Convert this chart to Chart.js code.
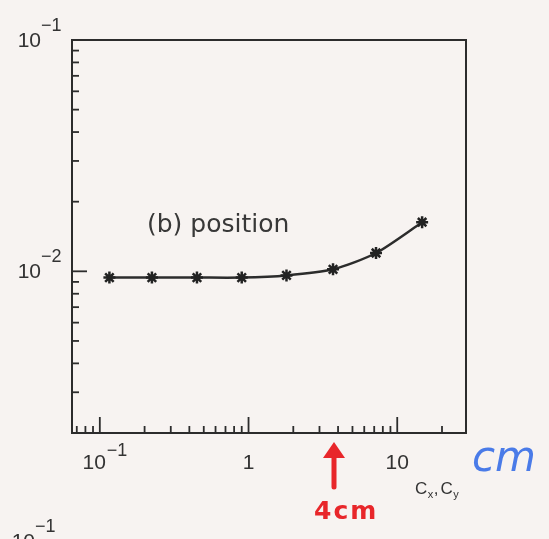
<!DOCTYPE html>
<html>
<head>
<meta charset="utf-8">
<script src="https://cdn.jsdelivr.net/npm/chart.js@4"></script>
<style>
  html, body { margin: 0; padding: 0; background: #f7f3f1; }
  #wrap { width: 549px; height: 539px; }
</style>
</head>
<body>
<div id="wrap"><canvas id="c" width="549" height="539"></canvas></div>
<script>
// ---- data ----
const xValues = [0.116, 0.224, 0.45, 0.9, 1.8, 3.7, 7.2, 14.7];      // Cx, Cy (cm)
const yValues = [0.0094, 0.0094, 0.0094, 0.0094, 0.0096, 0.0102, 0.0120, 0.0163];
const xTickValues = [0.1, 1, 10];
const xTickBase = ['10', '1', '10'];
const xTickExp = ['\u22121', '', ''];
const yTickValues = [0.1, 0.01];
const yTickBase = ['10', '10'];
const yTickExp = ['\u22121', '\u22122'];
const panelLabel = '(b) position';

const INK = '#2c2c2c';

const decorPlugin = {
  id: 'decor',
  beforeDraw(chart) {
    const ctx = chart.ctx;
    ctx.save();
    ctx.fillStyle = '#f7f3f1';
    ctx.fillRect(0, 0, chart.width, chart.height);
    ctx.restore();
  },
  afterDatasetsDraw(chart) {
    const ctx = chart.ctx;
    const a = chart.chartArea;
    const xs = chart.scales.x, ys = chart.scales.y;
    ctx.save();
    // frame
    ctx.strokeStyle = INK;
    ctx.lineWidth = 2;
    ctx.strokeRect(a.left, a.top, a.right - a.left, a.bottom - a.top);
    ctx.lineWidth = 1.8;
    // x ticks (inward, upward)
    for (let e = -2; e <= 1; e++) {
      for (let m = 1; m <= 9; m++) {
        const v = m * Math.pow(10, e);
        if (v <= xs.min || v >= xs.max) continue;
        const px = xs.getPixelForValue(v);
        const len = m === 1 ? 16 : 7;
        ctx.beginPath();
        ctx.moveTo(px, a.bottom);
        ctx.lineTo(px, a.bottom - len);
        ctx.stroke();
      }
    }
    // y ticks (inward, rightward)
    for (let e = -3; e <= -1; e++) {
      for (let m = 1; m <= 9; m++) {
        const v = m * Math.pow(10, e);
        if (v <= ys.min * 1.001 || v >= ys.max * 0.999) continue;
        const py = ys.getPixelForValue(v);
        const len = m === 1 ? 15 : 7;
        ctx.beginPath();
        ctx.moveTo(a.left, py);
        ctx.lineTo(a.left + len, py);
        ctx.stroke();
      }
    }
    // y labels
    ctx.fillStyle = '#333';
    ctx.textBaseline = 'middle';
    yTickValues.forEach((v, i) => {
      const py = ys.getPixelForValue(v);
      ctx.font = '21px "Liberation Sans", Arial, sans-serif';
      ctx.textAlign = 'right';
      ctx.fillText(yTickBase[i], 41, py + 1);
      ctx.font = '18px "Liberation Sans", Arial, sans-serif';
      ctx.textAlign = 'left';
      ctx.fillText(yTickExp[i], 41, py - 14);
    });
    // next panel's label peeking in at the bottom
    ctx.font = '21px "Liberation Sans", Arial, sans-serif';
    ctx.textAlign = 'right';
    ctx.fillText('10', 35, 542);
    ctx.font = '18px "Liberation Sans", Arial, sans-serif';
    ctx.textAlign = 'left';
    ctx.fillText('\u22121', 35, 527);
    // x labels
    xTickValues.forEach((v, i) => {
      const px = xs.getPixelForValue(v);
      ctx.font = '21px "Liberation Sans", Arial, sans-serif';
      if (xTickExp[i]) {
        ctx.textAlign = 'right';
        ctx.fillText(xTickBase[i], px + 6, 463);
        ctx.font = '18px "Liberation Sans", Arial, sans-serif';
        ctx.textAlign = 'left';
        ctx.fillText(xTickExp[i], px + 7, 451);
      } else {
        ctx.textAlign = 'center';
        ctx.fillText(xTickBase[i], px, 463);
      }
    });
    // axis title Cx,Cy
    ctx.textAlign = 'left';
    let tx = 415;
    const parts = [['C', 17, 489], ['x', 11, 495], [',', 17, 489], ['C', 17, 489], ['y', 11, 495]];
    parts.forEach(p => {
      ctx.font = p[1] + 'px "Liberation Sans", Arial, sans-serif';
      ctx.fillText(p[0], tx, p[2]);
      tx += ctx.measureText(p[0]).width + (p[0] === ',' ? 2 : 0.5);
    });
    // panel label
    ctx.fillStyle = '#383838';
    ctx.font = '25px "DejaVu Sans", sans-serif';
    ctx.textAlign = 'left';
    ctx.fillText(panelLabel, 147, 225);
    // handwritten annotations
    ctx.fillStyle = '#4a7be8';
    ctx.font = 'italic 42px "DejaVu Sans", sans-serif';
    ctx.fillText('cm', 472, 460);
    // red arrow
    ctx.fillStyle = '#e8262a';
    ctx.strokeStyle = '#e8262a';
    ctx.lineWidth = 5;
    ctx.lineCap = 'round';
    ctx.beginPath();
    ctx.moveTo(334, 452);
    ctx.lineTo(334, 487);
    ctx.stroke();
    ctx.beginPath();
    ctx.moveTo(334, 442);
    ctx.lineTo(345, 458);
    ctx.lineTo(323, 458);
    ctx.closePath();
    ctx.fill();
    ctx.font = 'bold 25px "DejaVu Sans", sans-serif';
    try { ctx.letterSpacing = '2px'; } catch (e) {}
    ctx.fillText('4cm', 314, 512);
    ctx.restore();
  }
};

new Chart(document.getElementById('c'), {
  type: 'line',
  data: {
    datasets: [{
      data: xValues.map((x, i) => ({ x: x, y: yValues[i] })),
      borderColor: INK,
      borderWidth: 2.5,
      tension: 0.25,
      pointStyle: 'star',
      pointRadius: 6,
      pointBorderWidth: 2.5,
      pointBorderColor: '#222',
      pointBackgroundColor: '#222',
      fill: false
    }]
  },
  options: {
    responsive: false,
    animation: false,
    layout: { padding: { left: 72, right: 83, top: 40, bottom: 106 } },
    plugins: { legend: { display: false }, tooltip: { enabled: false } },
    scales: {
      x: { type: 'logarithmic', display: false, min: 0.065, max: 29, bounds: 'data' },
      y: { type: 'logarithmic', display: false, min: 0.002, max: 0.1, bounds: 'data' }
    }
  },
  plugins: [decorPlugin]
});
</script>
</body>
</html>
